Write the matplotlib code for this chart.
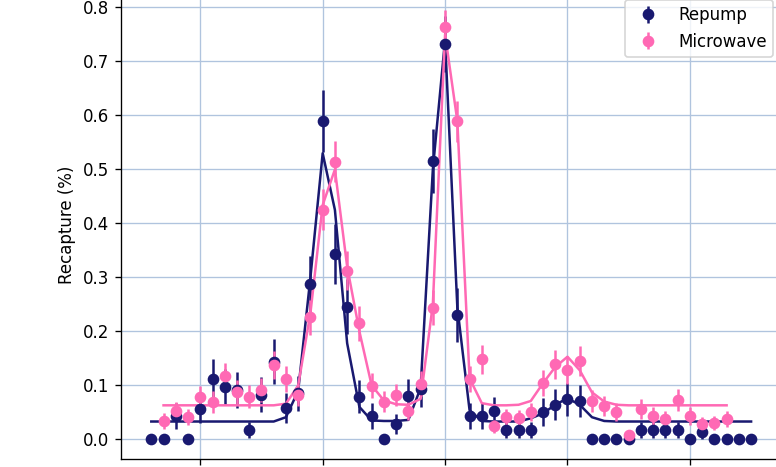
import matplotlib.pyplot as plt
from matplotlib.ticker import MultipleLocator

# detuning steps (tick labels fall outside the cropped picture)
repump_x = list(range(-4, 46))
microwave_x = list(range(-3, 44))

repump_y = [0.0, 0.0, 0.043, 0.0, 0.057, 0.111, 0.097, 0.091, 0.018, 0.083,
            0.144, 0.058, 0.085, 0.287, 0.590, 0.343, 0.246, 0.079, 0.044, 0.0,
            0.028, 0.080, 0.093, 0.516, 0.732, 0.230, 0.043, 0.043, 0.053, 0.017,
            0.017, 0.018, 0.051, 0.064, 0.074, 0.071, 0.0, 0.0, 0.0, 0.0,
            0.017, 0.017, 0.017, 0.017, 0.0, 0.014, 0.0, 0.0, 0.0, 0.0]
repump_err = [0.0, 0.0, 0.024, 0.0, 0.027, 0.037, 0.034, 0.033, 0.015, 0.032,
              0.041, 0.027, 0.032, 0.053, 0.058, 0.056, 0.051, 0.031, 0.024, 0.0,
              0.019, 0.031, 0.033, 0.059, 0.052, 0.050, 0.024, 0.024, 0.026, 0.015,
              0.015, 0.015, 0.026, 0.029, 0.031, 0.030, 0.0, 0.0, 0.0, 0.0,
              0.015, 0.015, 0.015, 0.015, 0.0, 0.014, 0.0, 0.0, 0.0, 0.0]
repump_fit = [0.033, 0.033, 0.033, 0.033, 0.033, 0.033, 0.033, 0.033, 0.033, 0.033,
              0.033, 0.041, 0.090, 0.300, 0.530, 0.425, 0.178, 0.060, 0.035, 0.034,
              0.034, 0.036, 0.095, 0.500, 0.740, 0.245, 0.054, 0.034, 0.033, 0.033,
              0.033, 0.039, 0.048, 0.064, 0.076, 0.064, 0.041, 0.034, 0.033, 0.033,
              0.033, 0.033, 0.033, 0.033, 0.033, 0.033, 0.033, 0.033, 0.033, 0.033]

microwave_y = [0.034, 0.052, 0.041, 0.078, 0.069, 0.117, 0.088, 0.079, 0.091, 0.138,
               0.111, 0.082, 0.226, 0.425, 0.514, 0.312, 0.215, 0.099, 0.070, 0.082,
               0.052, 0.103, 0.244, 0.763, 0.589, 0.112, 0.148, 0.024, 0.041, 0.039,
               0.051, 0.105, 0.139, 0.128, 0.145, 0.071, 0.062, 0.051, 0.008, 0.056,
               0.043, 0.037, 0.073, 0.043, 0.028, 0.031, 0.037]
microwave_err = [0.014, 0.017, 0.015, 0.021, 0.020, 0.025, 0.022, 0.021, 0.022, 0.026,
                 0.024, 0.021, 0.032, 0.038, 0.038, 0.036, 0.032, 0.023, 0.020, 0.021,
                 0.017, 0.023, 0.033, 0.033, 0.038, 0.024, 0.027, 0.012, 0.015, 0.015,
                 0.017, 0.024, 0.027, 0.026, 0.027, 0.020, 0.019, 0.017, 0.007, 0.018,
                 0.016, 0.015, 0.020, 0.016, 0.013, 0.013, 0.015]
microwave_fit = [0.063, 0.063, 0.063, 0.063, 0.063, 0.063, 0.063, 0.063, 0.063, 0.063,
                 0.066, 0.100, 0.234, 0.434, 0.500, 0.320, 0.200, 0.100, 0.072, 0.065,
                 0.064, 0.075, 0.250, 0.750, 0.590, 0.113, 0.067, 0.063, 0.063, 0.064,
                 0.071, 0.104, 0.134, 0.153, 0.128, 0.087, 0.070, 0.064, 0.063, 0.063,
                 0.063, 0.063, 0.063, 0.063, 0.063, 0.063, 0.063]

navy = 'midnightblue'
pink = 'hotpink'

fig = plt.figure(figsize=(776 / 120, 467 / 120), dpi=120)
# the picture is a crop: top and right edges of the axes lie just outside it
ax = fig.add_axes([120.7 / 776, 7.7 / 467, 661.0 / 776, 468.0 / 467])

ax.errorbar(repump_x, repump_y, yerr=repump_err, fmt='o', color=navy, label='Repump')
ax.plot(repump_x, repump_fit, color=navy)
ax.errorbar(microwave_x, microwave_y, yerr=microwave_err, fmt='o', color=pink, label='Microwave')
ax.plot(microwave_x, microwave_fit, color=pink)

ax.set_xlim(-6.5, 47.5)
ax.set_ylim(-0.037, 0.83)
ax.xaxis.set_major_locator(MultipleLocator(10))
ax.yaxis.set_major_locator(MultipleLocator(0.1))
ax.tick_params(axis='x', labelbottom=False)
ax.grid(True, color='lightsteelblue')
ax.set_ylabel('Recapture (%)')
ax.legend(loc='upper right')

fig.savefig('out.png', dpi=120)
